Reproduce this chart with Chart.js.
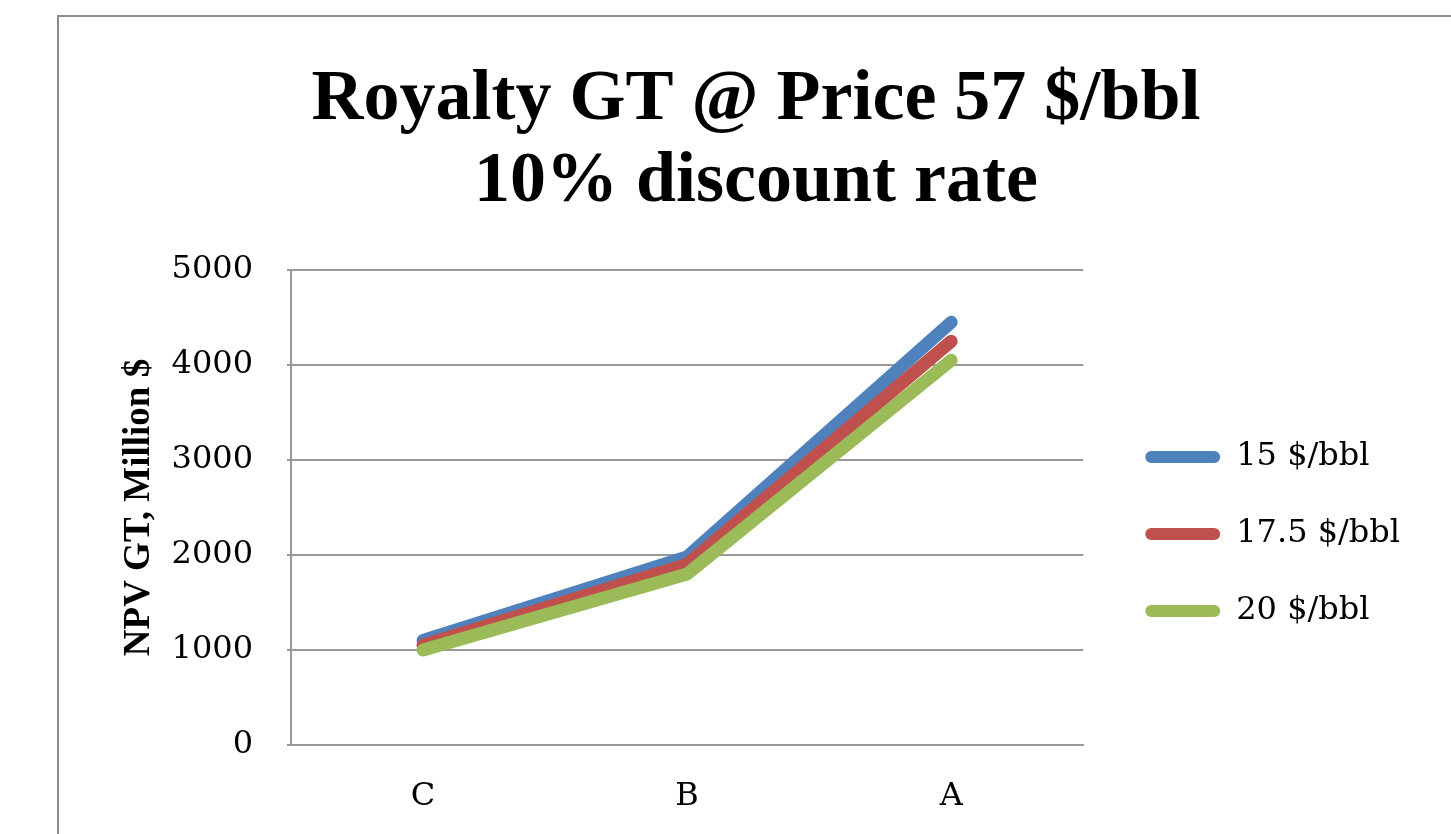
<!DOCTYPE html>
<html>
<head>
<meta charset="utf-8">
<title>Royalty GT @ Price 57 $/bbl</title>
<script src="https://cdn.jsdelivr.net/npm/chart.js@4/dist/chart.umd.min.js"></script>
<style>
    html, body { margin: 0; padding: 0; background: #fff; overflow: hidden; width: 1451px; height: 834px; }
    .frame { position: absolute; left: 57px; top: 15px; width: 1398px; height: 900px; box-sizing: border-box; border: 2px solid #8c8c8c; }
    #chart { position: absolute; left: 59px; top: 17px; }
</style>
</head>
<body>
<div class="frame"></div>
<canvas id="chart" width="1394" height="817"></canvas>

<script>
// DATA
const categories = ["C", "B", "A"];
const seriesNames = ["15 $/bbl", "17.5 $/bbl", "20 $/bbl"];
const values15 = [1100, 1980, 4450];
const values175 = [1050, 1900, 4250];
const values20 = [1000, 1800, 4050];
const yTicks = [0, 1000, 2000, 3000, 4000, 5000];
const titleLines = ["Royalty GT @ Price 57 $/bbl", "10% discount rate"];
const yAxisTitle = "NPV GT, Million $";

const colors = ["#4f81bd", "#c0504d", "#9bbb59"];
const gridColor = "#999999";

// DATASETS (green drawn on top, like the original)
const seriesValues = [values15, values175, values20];
const datasets = seriesValues.map((vals, i) => ({
    label: seriesNames[i],
    data: vals,
    borderColor: colors[i],
    backgroundColor: colors[i],
    borderWidth: 13,
    borderCapStyle: 'round',
    borderJoinStyle: 'round',
    pointRadius: 0,
    pointHoverRadius: 0,
    tension: 0,
    order: seriesValues.length - 1 - i
}));

// CHART
new Chart(document.getElementById('chart'), {
    type: 'line',
    data: { labels: categories, datasets: datasets },
    options: {
        responsive: false,
        animation: false,
        layout: { padding: { left: 43, right: 43, top: 0, bottom: 0 } },
        plugins: {
            title: {
                display: true,
                text: titleLines,
                color: '#000',
                font: { family: 'Liberation Serif', size: 72, weight: 'bold', lineHeight: 82 / 72 },
                padding: { top: 42, bottom: 47 }
            },
            legend: {
                position: 'right',
                align: 'center',
                maxWidth: 400,
                // empty title only pushes the entries down
                title: { display: true, text: ' ', font: { size: 1, lineHeight: 1 }, padding: { top: 108, bottom: 108 } },
                labels: {
                    color: '#000',
                    font: { family: 'DejaVu Serif', size: 32 },
                    boxWidth: 75,
                    boxHeight: 12,
                    padding: 45,
                    useBorderRadius: true,
                    borderRadius: 6,
                    generateLabels: chart => chart.data.datasets.map((d, i) => ({
                        text: d.label,
                        fillStyle: d.borderColor,
                        strokeStyle: d.borderColor,
                        fontColor: '#000',
                        lineWidth: 0,
                        borderRadius: 6,
                        hidden: false,
                        datasetIndex: i
                    }))
                }
            },
            tooltip: { enabled: false }
        },
        scales: {
            x: {
                offset: true,
                grid: { display: false },
                border: { display: true, color: gridColor, width: 2 },
                ticks: { color: '#000', font: { family: 'DejaVu Serif', size: 32 }, padding: 24 },
                afterFit: scale => { scale.height = 817 - 728; }
            },
            y: {
                min: yTicks[0],
                max: yTicks[yTicks.length - 1],
                afterBuildTicks: scale => { scale.ticks = yTicks.map(v => ({ value: v })); },
                grid: { color: gridColor, lineWidth: 2, tickLength: 4, drawTicks: true },
                border: { display: true, color: gridColor, width: 2 },
                ticks: {
                    color: '#000',
                    font: { family: 'DejaVu Serif', size: 32 },
                    padding: 34,
                    callback: v => String(v)
                },
                title: {
                    display: true,
                    text: yAxisTitle,
                    color: '#000',
                    font: { family: 'Liberation Serif', size: 37, weight: 'bold' },
                    padding: { top: 15, bottom: 0 }
                },
                afterFit: scale => { scale.width = 232 - 43; }
            },
            // empty spacer between plot and legend
            gap: {
                type: 'linear',
                position: 'right',
                grid: { display: false },
                border: { display: false },
                ticks: { display: false },
                afterFit: scale => { scale.width = 17; }
            }
        }
    }
});
</script>
</body>
</html>
